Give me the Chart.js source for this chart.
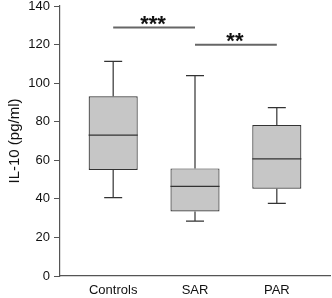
<!DOCTYPE html>
<html>
<head>
  <meta charset="utf-8" />
  <script src="https://cdn.jsdelivr.net/npm/chart.js@4.4.1/dist/chart.umd.min.js"></script>
  <style>
    body { margin: 0; background: #fff; }
    #wrap { width: 332px; height: 298px; }
  </style>
</head>
<body>
<div id="wrap"><canvas id="c"></canvas></div>
<script>
/* ---------- Data ---------- */
const categories = ['Controls', 'SAR', 'PAR'];
const whiskerMin = [40.6, 28.5, 37.7];
const q1 = [55.0, 33.5, 45.3];
const median = [73.0, 46.5, 60.7];
const q3 = [93.2, 55.8, 78.3];
const whiskerMax = [111.3, 103.9, 87.3];
const yTicks = [0, 20, 40, 60, 80, 100, 120, 140];

// significance bars: from category index, to category index, level, label
const sigFrom = [1, 2];
const sigTo = [2, 3];
const sigLevel = [128.8, 119.9];
const sigText = ['***', '**'];

const FONT = 'Liberation Sans, Arial, sans-serif';

/* ---------- Plugin: whiskers, medians, significance ---------- */
const boxExtras = {
  id: 'boxExtras',
  afterDatasetsDraw(chart) {
    const { ctx, scales: { x, y } } = chart;
    ctx.save();
    ctx.strokeStyle = '#333';
    ctx.lineWidth = 1.2;
    categories.forEach((c, i) => {
      const cx = x.getPixelForValue(i + 1);
      const capL = x.getPixelForValue(i + 1 - 0.11), capR = x.getPixelForValue(i + 1 + 0.11);
      const boxL = x.getPixelForValue(i + 1 - 0.3), boxR = x.getPixelForValue(i + 1 + 0.3);
      ctx.beginPath();
      // upper whisker
      ctx.moveTo(cx, y.getPixelForValue(q3[i]));
      ctx.lineTo(cx, y.getPixelForValue(whiskerMax[i]));
      ctx.moveTo(capL, y.getPixelForValue(whiskerMax[i]));
      ctx.lineTo(capR, y.getPixelForValue(whiskerMax[i]));
      // lower whisker
      ctx.moveTo(cx, y.getPixelForValue(q1[i]));
      ctx.lineTo(cx, y.getPixelForValue(whiskerMin[i]));
      ctx.moveTo(capL, y.getPixelForValue(whiskerMin[i]));
      ctx.lineTo(capR, y.getPixelForValue(whiskerMin[i]));
      // median
      ctx.moveTo(boxL, y.getPixelForValue(median[i]));
      ctx.lineTo(boxR, y.getPixelForValue(median[i]));
      ctx.stroke();
    });

    ctx.strokeStyle = '#666';
    ctx.lineWidth = 2;
    ctx.fillStyle = '#111';
    ctx.font = 'bold 22px ' + FONT;
    ctx.textAlign = 'center';
    ctx.textBaseline = 'alphabetic';
    sigLevel.forEach((lv, k) => {
      const x0 = x.getPixelForValue(sigFrom[k]), x1 = x.getPixelForValue(sigTo[k]);
      const py = y.getPixelForValue(lv);
      ctx.beginPath();
      ctx.moveTo(x0, py); ctx.lineTo(x1, py);
      ctx.stroke();
      ctx.fillText(sigText[k], (x0 + x1) / 2 - 1, py + 3);
    });
    ctx.restore();
  }
};

/* ---------- Chart ---------- */
new Chart(document.getElementById('c'), {
  type: 'bar',
  data: {
    datasets: [{
      data: categories.map((c, i) => ({ x: i + 1, y: [q1[i], q3[i]] })),
      backgroundColor: '#c6c6c6',
      borderColor: '#333',
      borderWidth: 1.2,
      borderSkipped: false,
      barPercentage: 0.6,
      categoryPercentage: 1
    }]
  },
  options: {
    responsive: true, maintainAspectRatio: false, animation: false,
    layout: { padding: { top: 0, right: 2, left: 0, bottom: 0 } },
    plugins: { legend: { display: false }, tooltip: { enabled: false } },
    scales: {
      x: {
        type: 'linear', min: 0.35, max: 3.65, offset: false,
        afterBuildTicks: s => { s.ticks = categories.map((c, i) => ({ value: i + 1 })); },
        afterFit: s => { s.height = 22; s.paddingLeft = 0; s.paddingRight = 0; },
        ticks: { color: '#111', font: { size: 13, family: FONT }, padding: 7, maxRotation: 0, callback: v => categories[v - 1] },
        grid: { display: false, drawTicks: false, tickLength: 0 },
        border: { color: '#555', width: 1.2 }
      },
      y: {
        min: 0, max: 140,
        afterBuildTicks: s => { s.ticks = yTicks.map(v => ({ value: v })); },
        afterFit: s => { s.width = 60; s.paddingTop = 6; s.paddingBottom = 0; },
        ticks: { color: '#111', font: { size: 13, family: FONT }, padding: 4 },
        grid: { drawOnChartArea: false, drawTicks: true, tickLength: 6, color: '#555' },
        border: { color: '#555', width: 1.2 },
        title: { display: true, text: 'IL-10 (pg/ml)', color: '#111', font: { size: 15, family: FONT }, padding: { top: 6, bottom: 0 } }
      }
    }
  },
  plugins: [boxExtras]
});
</script>
</body>
</html>
